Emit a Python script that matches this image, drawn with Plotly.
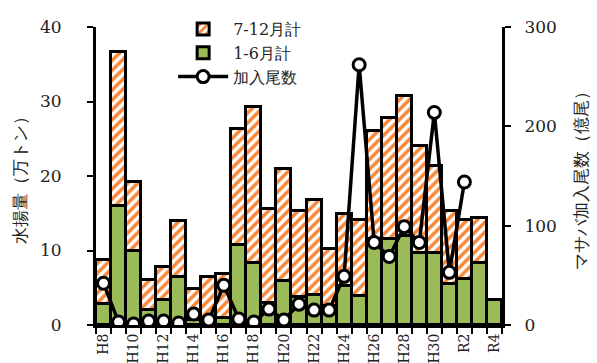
import plotly.graph_objects as go

categories = ["H8", "H9", "H10", "H11", "H12", "H13", "H14", "H15", "H16", "H17",
              "H18", "H19", "H20", "H21", "H22", "H23", "H24", "H25", "H26", "H27",
              "H28", "H29", "H30", "H31", "R2", "R3", "R4"]
tick_labels = ["H8", "", "H10", "", "H12", "", "H14", "", "H16", "", "H18", "", "H20", "",
               "H22", "", "H24", "", "H26", "", "H28", "", "H30", "", "R2", "", "R4"]

# 水揚量 (万トン)
jan_jun = [2.8, 16.0, 10.0, 2.0, 3.3, 6.4, 0.7, 0.5, 1.0, 10.8,
           8.3, 3.0, 5.9, 3.7, 4.0, 2.5, 5.2, 3.9, 11.5, 11.5,
           12.0, 9.7, 9.7, 5.5, 6.2, 8.3, 3.4]
total = [8.7, 36.7, 19.2, 6.0, 7.8, 13.9, 4.9, 6.5, 6.8, 26.3,
         29.2, 15.6, 21.0, 15.3, 16.8, 10.2, 14.9, 14.1, 26.0, 27.8,
         30.7, 24.0, 21.3, 15.3, 14.1, 14.3, 3.4]
jul_dec = [round(t - j, 2) for t, j in zip(total, jan_jun)]

# 加入尾数 (億尾)
recruits = [42, 3, 1, 4, 4, 2, 11, 5, 40, 6,
            3, 16, 5, 21, 15, 15, 49, 262, 83, 69,
            99, 83, 214, 53, 144, None, None]

FONT = "DejaVu Serif"
TXT = "#222222"
ORANGE = "#F7883A"
GREEN = "#9BBB59"

fig = go.Figure()
fig.add_trace(go.Bar(
    x=categories, y=jan_jun, name="1-6月計",
    marker=dict(color=GREEN, line=dict(color="black", width=3)),
    legendrank=2,
))
fig.add_trace(go.Bar(
    x=categories, y=jul_dec, name="7-12月計",
    marker=dict(color="white", line=dict(color="black", width=3),
                pattern=dict(shape="/", fgcolor=ORANGE, bgcolor="white",
                             fgopacity=1, size=7, solidity=0.5)),
    legendrank=1,
))
fig.add_trace(go.Scatter(
    x=categories, y=recruits, name="加入尾数", yaxis="y2",
    mode="lines+markers",
    line=dict(color="black", width=3.5),
    marker=dict(symbol="circle", size=12, color="white",
                line=dict(color="black", width=3)),
    legendrank=3,
))

fig.update_layout(
    width=597, height=363,
    margin=dict(l=96, r=95, t=19, b=38),
    paper_bgcolor="white", plot_bgcolor="white",
    barmode="stack", bargap=0,
    font=dict(family=FONT, size=16, color=TXT),
    showlegend=True,
    legend=dict(x=0.19, y=1.05, xanchor="left", yanchor="top",
                bgcolor="rgba(0,0,0,0)", traceorder="normal",
                font=dict(size=16, family=FONT, color=TXT),
                itemwidth=50, tracegroupgap=0),
    xaxis=dict(
        type="category", categoryorder="array", categoryarray=categories,
        range=[-0.5, len(categories) - 0.5], automargin=False,
        tickvals=categories, ticktext=tick_labels, tickangle=-90,
        tickson="boundaries", ticks="outside", ticklen=6, tickwidth=2, tickcolor="black",
        showline=True, linecolor="black", linewidth=3,
        showgrid=False, zeroline=False,
        tickfont=dict(size=14, family=FONT, color=TXT),
    ),
    yaxis=dict(
        range=[0, 40], dtick=10, ticks="outside", ticklen=6, tickwidth=2, tickcolor="black",
        showline=True, linecolor="black", linewidth=3, automargin=False,
        showgrid=False, zeroline=False,
        ticklabelstandoff=22,
        tickfont=dict(size=17, family=FONT, color=TXT),
        title=dict(text="水揚量（万トン）", standoff=10,
                   font=dict(size=17, family=FONT, color=TXT)),
    ),
    yaxis2=dict(
        range=[0, 300], dtick=100, overlaying="y", side="right",
        ticks="outside", ticklen=6, tickwidth=2, tickcolor="black",
        showline=True, linecolor="black", linewidth=3, automargin=False,
        showgrid=False, zeroline=False,
        ticklabelstandoff=10,
        tickfont=dict(size=17, family=FONT, color=TXT),
        title=dict(text="マサバ加入尾数（億尾）", standoff=20,
                   font=dict(size=17, family=FONT, color=TXT)),
    ),
)

fig.write_html("out.html")
